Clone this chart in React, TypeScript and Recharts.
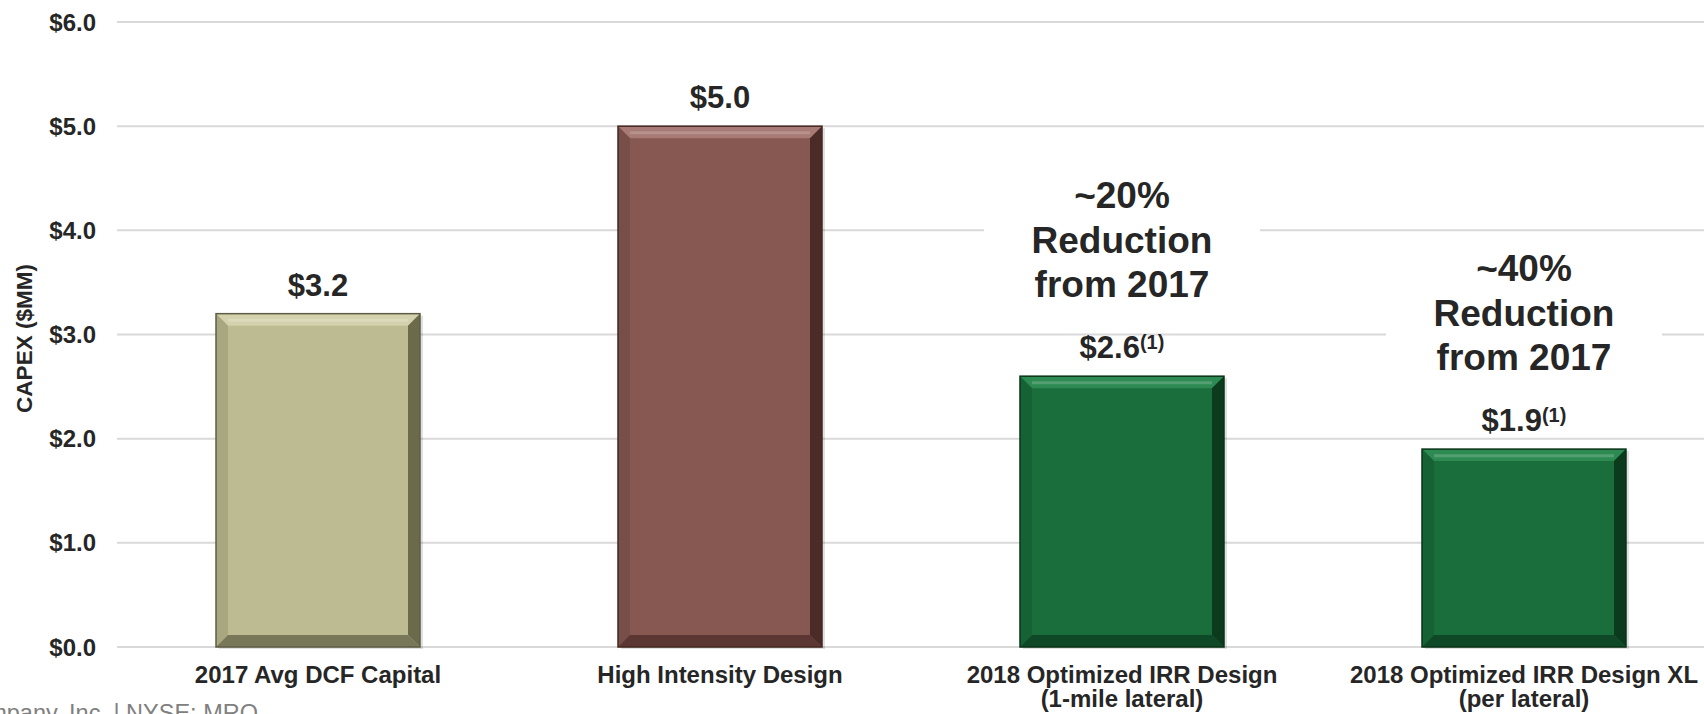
import React from 'react';
import { BarChart, Bar, XAxis, YAxis, CartesianGrid, LabelList } from 'recharts';

// ---- data ----
const categoryLine1 = [
  '2017 Avg DCF Capital',
  'High Intensity Design',
  '2018 Optimized IRR Design',
  '2018 Optimized IRR Design XL',
];
const categoryLine2 = ['', '', '(1-mile lateral)', '(per lateral)'];
const capexValues = [3.2, 5.0, 2.6, 1.9];
const valueLabels = ['$3.2', '$5.0', '$2.6', '$1.9'];
const footnoteMarks = ['', '', '(1)', '(1)'];
const reductionPct = ['', '', '~20%', '~40%'];
const reductionLines = ['Reduction', 'from 2017'];
const yTicks = [0, 1, 2, 3, 4, 5, 6];
const yAxisTitle = 'CAPEX ($MM)';
const footerText = 'Marathon Oil Company, Inc. | NYSE: MRO';

// ---- styles ----
const FONT = '"Liberation Sans", Arial, Helvetica, sans-serif';
const TEXT = '#262626';
const palettes = [
  { face: '#BDBB91', top: '#D3D2AD', left: '#A9A780', right: '#6B6A4B', bottom: '#78775A', edge: '#5E5D44' },
  { face: '#875752', top: '#A87A75', left: '#784E49', right: '#4A2B28', bottom: '#5C3633', edge: '#44271F' },
  { face: '#1A6E3C', top: '#2E8A53', left: '#166234', right: '#0B3A1C', bottom: '#0F4826', edge: '#0A3319' },
];
const barPalette = [0, 1, 2, 2];

const data = categoryLine1.map((name, i) => ({ name, value: capexValues[i] }));

function BevelBar(props: any) {
  const { x, y, width: w, height: h, index } = props;
  if (w == null || h == null || h <= 0) return null;
  const p = palettes[barPalette[index] ?? 0];
  const b = Math.min(12, w / 2, h / 2);
  return (
    <g>
      <rect x={x + 3} y={y + 2} width={w} height={h} fill="#000" opacity={0.12} />
      <rect x={x} y={y} width={w} height={h} fill={p.face} />
      <polygon points={`${x},${y} ${x + w},${y} ${x + w - b},${y + b} ${x + b},${y + b}`} fill={p.top} />
      <line x1={x + b} y1={y + b * 0.55} x2={x + w - b} y2={y + b * 0.55} stroke="#ffffff" strokeOpacity={0.18} strokeWidth={3} />
      <polygon points={`${x},${y} ${x + b},${y + b} ${x + b},${y + h - b} ${x},${y + h}`} fill={p.left} />
      <polygon points={`${x + w},${y} ${x + w},${y + h} ${x + w - b},${y + h - b} ${x + w - b},${y + b}`} fill={p.right} />
      <polygon points={`${x},${y + h} ${x + b},${y + h - b} ${x + w - b},${y + h - b} ${x + w},${y + h}`} fill={p.bottom} />
      <rect x={x} y={y} width={w} height={h} fill="none" stroke={p.edge} strokeWidth={1.5} />
    </g>
  );
}

function ValueLabel(props: any) {
  const { x, y, width, index } = props;
  const cx = x + width / 2;
  const note = footnoteMarks[index];
  return (
    <text x={cx} y={y - 18} textAnchor="middle" fontFamily={FONT} fontWeight="bold" fontSize={31} fill={TEXT}>
      {valueLabels[index]}
      {note ? (
        <tspan fontSize={20} dy={-9}>
          {note}
        </tspan>
      ) : null}
    </text>
  );
}

function Annotation(props: any) {
  const { x, y, width, index } = props;
  const pct = reductionPct[index];
  if (!pct) return null;
  const cx = x + width / 2;
  return (
    <g>
      <rect x={cx - 138} y={y - 205} width={276} height={145} fill="#ffffff" />
      <text textAnchor="middle" fontFamily={FONT} fontWeight="bold" fontSize={37} fill={TEXT}>
        <tspan x={cx} y={y - 168}>{pct}</tspan>
        <tspan x={cx} y={y - 123.5}>{reductionLines[0]}</tspan>
        <tspan x={cx} y={y - 79}>{reductionLines[1]}</tspan>
      </text>
    </g>
  );
}

function CategoryTick(props: any) {
  const { x, y, payload } = props;
  const i = payload?.index ?? 0;
  return (
    <text textAnchor="middle" fontFamily={FONT} fontWeight="bold" fontSize={24} fill={TEXT}>
      <tspan x={x} y={y + 36}>{categoryLine1[i]}</tspan>
      {categoryLine2[i] ? <tspan x={x} y={y + 60}>{categoryLine2[i]}</tspan> : null}
    </text>
  );
}

function YTitle(props: any) {
  const vb = props.viewBox || { x: 0, y: 22, width: 117, height: 625 };
  const cy = vb.y + vb.height / 2 + 4;
  const bx = 32;
  return (
    <text
      x={bx}
      y={cy}
      transform={`rotate(-90 ${bx} ${cy})`}
      textAnchor="middle"
      fontFamily={FONT}
      fontWeight="bold"
      fontSize={22.5}
      fill={TEXT}
    >
      {yAxisTitle}
    </text>
  );
}

export default function App() {
  return (
    <div
      style={{
        position: 'absolute',
        left: 0,
        top: 0,
        width: 1704,
        height: 714,
        overflow: 'hidden',
        background: '#ffffff',
      }}
    >
      <BarChart
        width={1725}
        height={714}
        data={data}
        margin={{ top: 22, right: 0, left: 0, bottom: 7 }}
        barSize={204}
      >
        <CartesianGrid vertical={false} stroke="#D9D9D9" strokeWidth={2} />
        <XAxis
          dataKey="name"
          axisLine={false}
          tickLine={false}
          tickSize={0}
          tickMargin={0}
          height={60}
          interval={0}
          tick={<CategoryTick />}
        />
        <YAxis
          width={117}
          domain={[0, 6]}
          ticks={yTicks}
          axisLine={false}
          tickLine={false}
          tickSize={0}
          tickMargin={21}
          interval={0}
          tickFormatter={(v: number) => `$${v.toFixed(1)}`}
          tick={{ fontFamily: FONT, fontWeight: 'bold', fontSize: 24, fill: TEXT }}
          label={<YTitle />}
        />
        <Bar dataKey="value" isAnimationActive={false} shape={<BevelBar />}>
          <LabelList dataKey="value" content={<Annotation />} />
          <LabelList dataKey="value" content={<ValueLabel />} />
        </Bar>
      </BarChart>
      <svg
        width={1704}
        height={714}
        style={{ position: 'absolute', left: 0, top: 0, pointerEvents: 'none' }}
      >
        <text x={258} y={721} textAnchor="end" fontFamily={FONT} fontSize={23.5} fill="#808080">
          {footerText}
        </text>
      </svg>
    </div>
  );
}
